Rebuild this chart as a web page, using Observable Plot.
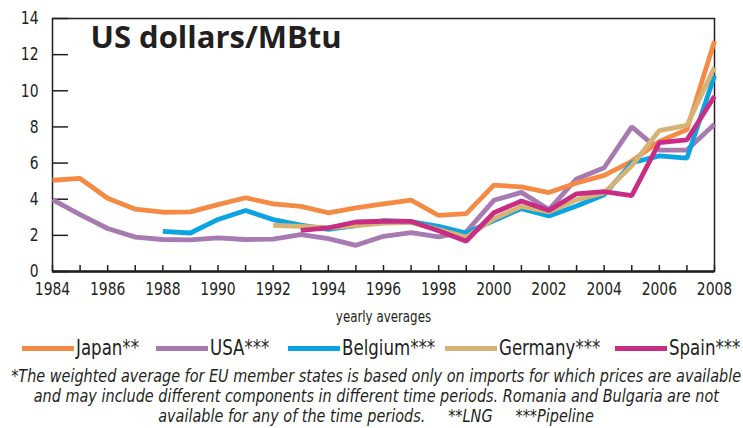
<!DOCTYPE html>
<html><head><meta charset="utf-8">
<script src="https://cdn.jsdelivr.net/npm/d3@7"></script>
<script src="https://cdn.jsdelivr.net/npm/@observablehq/plot@0.6"></script>
<style>
body{margin:0;background:#fff;font-family:"DejaVu Sans Condensed","DejaVu Sans",sans-serif;font-stretch:condensed;color:#231f20;width:743px;overflow:hidden}
#legend{position:relative;height:36px;font-size:21px;white-space:nowrap}
.item{position:absolute;top:0;height:36px;display:flex;align-items:center}
.sw{width:52px;height:5px;margin-right:2px;flex:none}
.lt{display:inline-block;transform-origin:left center}
#note{font-style:italic;font-size:17px;line-height:20px;white-space:pre;width:743px;margin-left:5px}
.nl{display:flex;justify-content:center;height:20px}
.nl span{display:inline-block;transform-origin:center center;flex:none}
g.ttl text{font-stretch:normal}
</style></head><body><div id="chart"></div><div id="legend"></div><div id="note"></div>
<script>
const title = "US dollars/MBtu";
const axisLabel = "yearly averages";
const years = [1984,1985,1986,1987,1988,1989,1990,1991,1992,1993,1994,1995,1996,1997,1998,1999,2000,2001,2002,2003,2004,2005,2006,2007,2008];
const xTickLabels = [1984,1986,1988,1990,1992,1994,1996,1998,2000,2002,2004,2006,2008];
const yTicks = [0,2,4,6,8,10,12,14];
const japan   = [5.05,5.15,4.05,3.45,3.28,3.3,3.7,4.08,3.74,3.6,3.25,3.52,3.74,3.95,3.1,3.2,4.78,4.68,4.37,4.9,5.32,6.1,7.2,7.85,12.75];
const usa     = [3.98,3.15,2.38,1.9,1.77,1.75,1.86,1.77,1.79,2.04,1.82,1.45,1.95,2.15,1.92,2.2,3.94,4.38,3.43,5.12,5.74,8.0,6.72,6.72,8.15];
const belgium = [null,null,null,null,2.22,2.13,2.88,3.38,2.87,2.57,2.33,2.54,2.81,2.76,2.5,2.13,2.82,3.48,3.07,3.62,4.25,6.02,6.4,6.27,10.85];
const germany = [null,null,null,null,null,null,null,null,2.56,2.5,2.42,2.54,2.68,2.72,2.32,1.9,2.92,3.6,3.3,3.97,4.35,5.85,7.8,8.08,11.3];
const spain   = [null,null,null,null,null,null,null,null,null,2.27,2.41,2.74,2.78,2.77,2.26,1.68,3.25,3.9,3.38,4.3,4.42,4.2,7.13,7.28,9.7];
const seriesNames = ["Japan**","USA***","Belgium***","Germany***","Spain***"];
const seriesColors = ["#f58a45","#a77bb1","#0ba3e1","#d6b274","#c92d83"];
const footnoteLines = [
  "*The weighted average for EU member states is based only on imports for which prices are available",
  "and may include different components in different time periods. Romania and Bulgaria are not",
  "available for any of the time periods.     **LNG     ***Pipeline"
];

const seriesValues = {"Japan**": japan, "USA***": usa, "Belgium***": belgium, "Germany***": germany, "Spain***": spain};
const drawOrder = ["USA***","Japan**","Belgium***","Germany***","Spain***"];
const rows = [];
for (const s of drawOrder) seriesValues[s].forEach((v,i) => { if (v != null) rows.push({series: s, year: years[i], value: v}); });

const W = 743, H = 330, mL = 52, mR = 29, mT = 18, mB = 59;
const ink = "#231f20";
const font = '"DejaVu Sans Condensed","DejaVu Sans",sans-serif';

const chart = Plot.plot({
  width: W, height: H, marginLeft: mL, marginRight: mR, marginTop: mT, marginBottom: mB,
  x: {domain: [1984, 2008]},
  y: {domain: [0, 14]},
  color: {domain: seriesNames, range: seriesColors},
  style: {fontFamily: font, fontSize: "18px", color: ink, background: "white", overflow: "visible"},
  marks: [
    Plot.frame({stroke: ink, strokeWidth: 1.5}),
    Plot.tickX(years, {x: d => d, insetTop: H - mT - mB - 6, stroke: ink, strokeWidth: 1.5}),
    Plot.tickY(yTicks, {y: d => d, insetRight: W - mL - mR - 16, stroke: ink, strokeWidth: 1.5}),
    Plot.ruleY([0], {stroke: ink, strokeWidth: 2.5}),
    Plot.axisX({ticks: xTickLabels, tickSize: 0, tickPadding: 11, tickFormat: d => String(d), label: null, fontSize: 18}),
    Plot.axisY({ticks: yTicks, tickSize: 0, tickPadding: 14, label: null, fontSize: 18}),
    Plot.line(rows, {x: "year", y: "value", z: "series", stroke: "series", strokeWidth: 4.8, strokeLinejoin: "miter", strokeLinecap: "butt"}),
    Plot.text([title], {frameAnchor: "top-left", dx: 38, dy: 7, text: d => d, textAnchor: "start", lineAnchor: "top", fontSize: 31, fontWeight: "bold", fontFamily: "'Open Sans'", fill: ink, className: "ttl"}),
    Plot.text([axisLabel], {frameAnchor: "bottom", dy: 50, text: d => d, fontSize: 15, fill: ink, className: "xlab"})
  ]
});
document.getElementById("chart").append(chart);

// condensed look for axis texts
chart.querySelectorAll('g[aria-label="x-axis tick label"] text, g[aria-label="y-axis tick label"] text').forEach(t => {
  t.setAttribute("transform", (t.getAttribute("transform") || "") + " scale(0.86,1)");
});
chart.querySelectorAll('g.xlab text').forEach(t => {
  t.setAttribute("transform", (t.getAttribute("transform") || "") + " scale(0.88,1)");
});
chart.querySelectorAll('g.ttl text').forEach(t => { t.style.fontStretch = "normal"; });

const legend = document.getElementById("legend");
const legendLeft = [22, 156, 288, 445, 615];
seriesNames.forEach((n, i) => {
  const it = document.createElement("div"); it.className = "item"; it.style.left = legendLeft[i] + "px";
  const sw = document.createElement("span"); sw.className = "sw"; sw.style.background = seriesColors[i];
  const tx = document.createElement("span"); tx.className = "lt"; tx.textContent = n; tx.style.transform = "scaleX(0.88)";
  it.append(sw, tx); legend.append(it);
});

const note = document.getElementById("note");
const spans = footnoteLines.map(l => {
  const d = document.createElement("div"); d.className = "nl";
  const s = document.createElement("span"); s.textContent = l;
  d.append(s); note.append(d); return s;
});
const w0 = spans[0].getBoundingClientRect().width;
const k = Math.min(1, 730 / w0);
spans.forEach(s => s.style.transform = `scaleX(${k})`);
</script>
</body></html>
